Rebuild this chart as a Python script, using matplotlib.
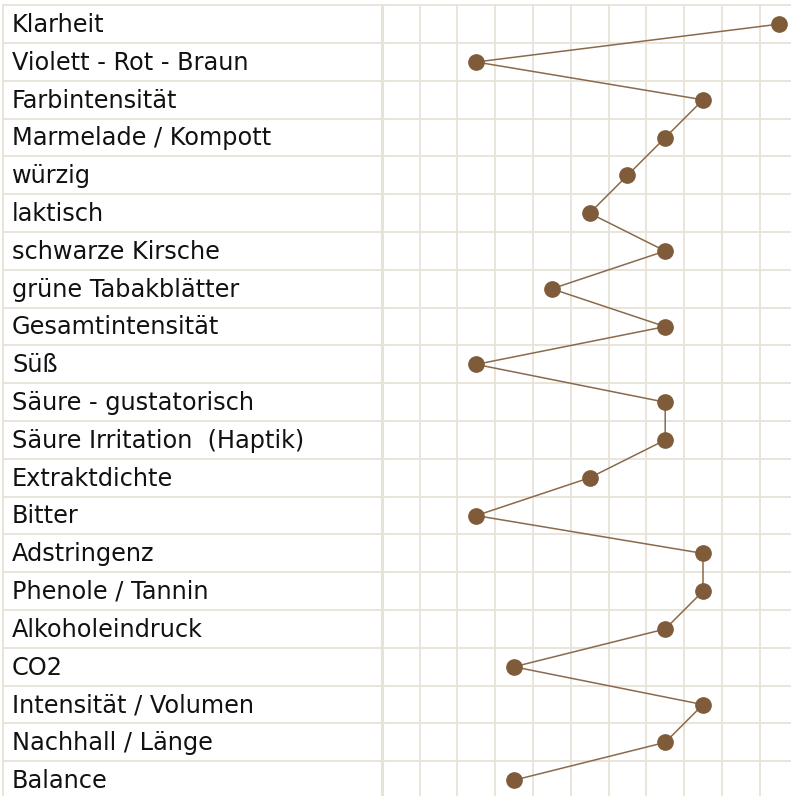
import matplotlib
matplotlib.use("Agg")
import matplotlib.pyplot as plt

# Merkmale und Bewertungen (1 .. 11, Spalte im Raster)
labels = [
    "Klarheit", "Violett - Rot - Braun", "Farbintensität", "Marmelade / Kompott",
    "würzig", "laktisch", "schwarze Kirsche", "grüne Tabakblätter",
    "Gesamtintensität", "Süß", "Säure - gustatorisch", "Säure Irritation  (Haptik)",
    "Extraktdichte", "Bitter", "Adstringenz", "Phenole / Tannin",
    "Alkoholeindruck", "CO2", "Intensität / Volumen", "Nachhall / Länge", "Balance",
]
scores = [11, 3, 9, 8, 7, 6, 8, 5, 8, 3, 8, 8, 6, 3, 9, 9, 8, 4, 9, 8, 4]
n_cols = 11

grid_color = "#e8e3d8"
brown = "#7f5b3a"
line_brown = "#8a6a4c"

W, H = 791, 796
cell = 37.8          # Pixel pro Rasterzelle
x0_px, y0_px = 381.7, 5.3   # linke Rasterkante, obere Linie

fig = plt.figure(figsize=(W / 100, H / 100), dpi=100)
ax = fig.add_axes([0, 0, 1, 1])
ax.set_xlim(0.5 - x0_px / cell, 0.5 + (W - x0_px) / cell)
ax.set_ylim(-0.5 + (H - y0_px) / cell, -0.5 - y0_px / cell)
ax.axis("off")

n = len(labels)
left_edge = 0.5 - (x0_px - 3) / cell
right_edge = 0.5 + (W - x0_px) / cell

# horizontale Linien
for i in range(n + 1):
    ax.plot([left_edge, right_edge], [i - 0.5, i - 0.5], color=grid_color, lw=1.3, zorder=1)
# vertikale Linien im Raster
for k in range(n_cols + 1):
    ax.plot([k + 0.5, k + 0.5], [-0.5, n - 0.5], color=grid_color, lw=1.3, zorder=1)
ax.plot([0.5, 0.5], [-0.5, n - 0.5], color=grid_color, lw=2.2, zorder=1)
ax.plot([left_edge, left_edge], [-0.5, n - 0.5], color=grid_color, lw=1.3, zorder=1)

# Beschriftungen
for i, lab in enumerate(labels):
    ax.text(left_edge + 9 / cell, i + 0.02, lab, fontsize=17.3, color="#111111",
            va="center", ha="left", family="DejaVu Sans")

# Profil-Linie
rows = list(range(n))
ax.plot(scores, rows, color=line_brown, lw=1.1, zorder=2)
ax.plot(scores, rows, "o", color=brown, markersize=11, zorder=3)

fig.savefig("out.png", dpi=100)
